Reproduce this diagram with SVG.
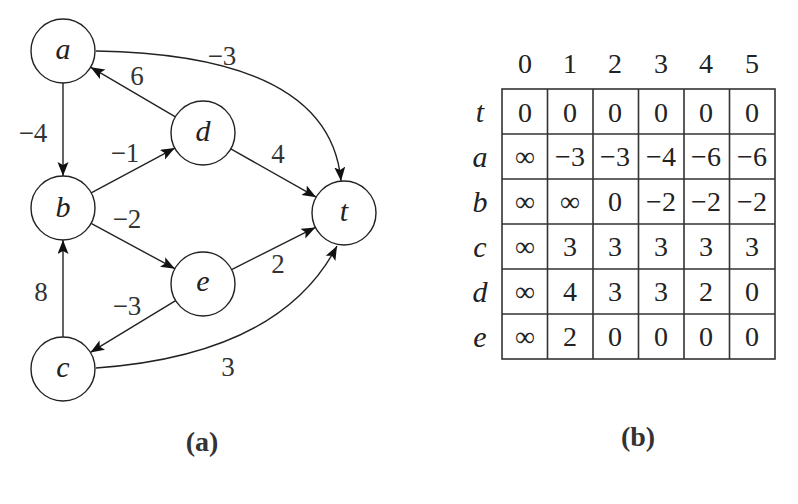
<svg xmlns="http://www.w3.org/2000/svg" width="798" height="504" viewBox="0 0 798 504">
<style>
.node{fill:#fff;stroke:#222;stroke-width:1.4}
.lbl{font-family:"Liberation Serif",serif;font-style:italic;font-size:30px;fill:#222;text-anchor:middle}
.w{font-family:"Liberation Serif",serif;font-size:27px;fill:#333;text-anchor:middle}
.edge{fill:none;stroke:#222;stroke-width:1.4}
.cap{font-family:"Liberation Serif",serif;font-weight:bold;font-size:28px;fill:#333;text-anchor:middle}
.grid{stroke:#333;stroke-width:1.6;fill:none}
.v{font-family:"Liberation Serif",serif;font-size:28px;fill:#222;text-anchor:middle}
</style>
<defs>
<marker id="ah" markerUnits="userSpaceOnUse" markerWidth="15" markerHeight="12" refX="14" refY="5.5" orient="auto">
<path d="M0,0 L14,5.5 L0,11 L3,5.5 z" fill="#111"/>
</marker>
</defs>
<rect width="798" height="504" fill="#fff"/>
<g id="connectors">
<line class="edge" x1="63" y1="83" x2="63" y2="176" marker-end="url(#ah)"/>
<line class="edge" x1="175.4" y1="116.8" x2="90.6" y2="67.2" marker-end="url(#ah)"/>
<line class="edge" x1="91.2" y1="192.9" x2="174.8" y2="148.1" marker-end="url(#ah)"/>
<line class="edge" x1="230.8" y1="148.8" x2="316.2" y2="197.2" marker-end="url(#ah)"/>
<line class="edge" x1="91.1" y1="223.3" x2="174.9" y2="268.7" marker-end="url(#ah)"/>
<line class="edge" x1="231.6" y1="269.6" x2="315.4" y2="227.4" marker-end="url(#ah)"/>
<line class="edge" x1="175.6" y1="300.6" x2="90.4" y2="352.4" marker-end="url(#ah)"/>
<line class="edge" x1="63" y1="337" x2="63" y2="240" marker-end="url(#ah)"/>
<path class="edge" d="M96,51 Q330,55 341,181" marker-end="url(#ah)"/>
<path class="edge" d="M96,368 Q280,355 337,246" marker-end="url(#ah)"/>
<text class="w" x="222" y="65">−3</text>
<text class="w" x="137" y="85">6</text>
<text class="w" x="33" y="142">−4</text>
<text class="w" x="125" y="162">−1</text>
<text class="w" x="278" y="163">4</text>
<text class="w" x="127" y="228">−2</text>
<text class="w" x="278" y="273">2</text>
<text class="w" x="41" y="301">8</text>
<text class="w" x="127" y="315">−3</text>
<text class="w" x="228" y="376">3</text>
</g>
<g id="node-a"><circle class="node" cx="63" cy="51" r="32"/><text class="lbl" x="63" y="59">a</text></g>
<g id="node-b"><circle class="node" cx="63" cy="208" r="32"/><text class="lbl" x="63" y="217">b</text></g>
<g id="node-c"><circle class="node" cx="63" cy="369" r="32"/><text class="lbl" x="63" y="377">c</text></g>
<g id="node-d"><circle class="node" cx="203" cy="133" r="32"/><text class="lbl" x="203" y="141">d</text></g>
<g id="node-e"><circle class="node" cx="203" cy="284" r="32"/><text class="lbl" x="203" y="291">e</text></g>
<g id="node-t"><circle class="node" cx="344" cy="213" r="32"/><text class="lbl" x="344" y="221">t</text></g>
<text class="cap" x="202" y="451">(a)</text>
<g id="table">
<rect class="grid" x="502" y="89" width="273" height="270"/>
<path class="grid" d="M547.5,89V359M593,89V359M638.5,89V359M684,89V359M729.5,89V359M502,134H775M502,179H775M502,224H775M502,269H775M502,314H775"/>
<g class="v">
<text x="525" y="73">0</text><text x="570" y="73">1</text><text x="615" y="73">2</text><text x="661" y="73">3</text><text x="706" y="73">4</text><text x="752" y="73">5</text>
</g>
<g class="lbl">
<text x="480" y="122">t</text><text x="480" y="167">a</text><text x="480" y="212">b</text><text x="480" y="257">c</text><text x="480" y="302">d</text><text x="480" y="347">e</text>
</g>
<g class="v">
<text x="525" y="122">0</text><text x="570" y="122">0</text><text x="615" y="122">0</text><text x="661" y="122">0</text><text x="706" y="122">0</text><text x="752" y="122">0</text>
<text x="525" y="166">∞</text><text x="570" y="166">−3</text><text x="615" y="166">−3</text><text x="661" y="166">−4</text><text x="706" y="166">−6</text><text x="752" y="166">−6</text>
<text x="525" y="211">∞</text><text x="570" y="211">∞</text><text x="615" y="211">0</text><text x="661" y="211">−2</text><text x="706" y="211">−2</text><text x="752" y="211">−2</text>
<text x="525" y="256">∞</text><text x="570" y="256">3</text><text x="615" y="256">3</text><text x="661" y="256">3</text><text x="706" y="256">3</text><text x="752" y="256">3</text>
<text x="525" y="301">∞</text><text x="570" y="301">4</text><text x="615" y="301">3</text><text x="661" y="301">3</text><text x="706" y="301">2</text><text x="752" y="301">0</text>
<text x="525" y="346">∞</text><text x="570" y="346">2</text><text x="615" y="346">0</text><text x="661" y="346">0</text><text x="706" y="346">0</text><text x="752" y="346">0</text>
</g>
</g>
<text class="cap" x="638" y="446">(b)</text>
</svg>
